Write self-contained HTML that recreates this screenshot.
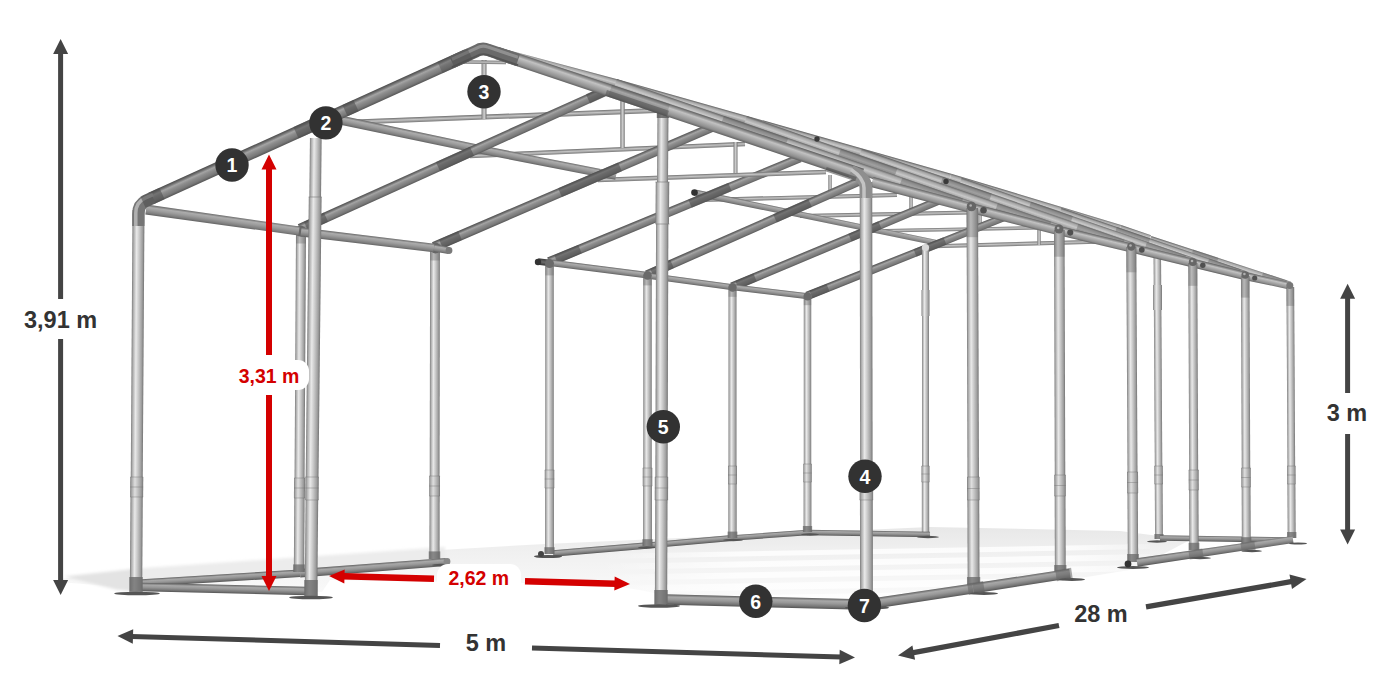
<!DOCTYPE html>
<html lang="pl">
<head>
<meta charset="utf-8">
<title>Wymiary hali namiotowej 5 x 28 m</title>
<style>
html,body{margin:0;padding:0;background:#ffffff;}
body{width:1400px;height:700px;overflow:hidden;}
svg{display:block;}
svg text{font-family:"Liberation Sans",Arial,Helvetica,sans-serif;font-weight:700;}
</style>
</head>
<body>
<svg width="1400" height="700" viewBox="0 0 1400 700">
<defs><linearGradient id="post" x1="0" y1="0" x2="0" y2="1"><stop offset="0" stop-color="#7c7c7c"/><stop offset="0.12" stop-color="#adadad"/><stop offset="0.36" stop-color="#e9e9e9"/><stop offset="0.6" stop-color="#c6c6c6"/><stop offset="0.85" stop-color="#9e9e9e"/><stop offset="1" stop-color="#747474"/></linearGradient><linearGradient id="postH" x1="0" y1="0" x2="1" y2="0"><stop offset="0" stop-color="#7c7c7c"/><stop offset="0.12" stop-color="#adadad"/><stop offset="0.36" stop-color="#e9e9e9"/><stop offset="0.6" stop-color="#c6c6c6"/><stop offset="0.85" stop-color="#9e9e9e"/><stop offset="1" stop-color="#747474"/></linearGradient><linearGradient id="rafter" x1="0" y1="0" x2="0" y2="1"><stop offset="0" stop-color="#4c4c4c"/><stop offset="0.14" stop-color="#6c6c6c"/><stop offset="0.32" stop-color="#a4a4a4"/><stop offset="0.5" stop-color="#8e8e8e"/><stop offset="0.8" stop-color="#787878"/><stop offset="1" stop-color="#565656"/></linearGradient><linearGradient id="rafterL" x1="0" y1="0" x2="0" y2="1"><stop offset="0" stop-color="#5c5c5c"/><stop offset="0.14" stop-color="#8a8a8a"/><stop offset="0.32" stop-color="#c2c2c2"/><stop offset="0.5" stop-color="#aeaeae"/><stop offset="0.8" stop-color="#8e8e8e"/><stop offset="1" stop-color="#5e5e5e"/></linearGradient><linearGradient id="purlin" x1="0" y1="0" x2="0" y2="1"><stop offset="0" stop-color="#666666"/><stop offset="0.25" stop-color="#acacac"/><stop offset="0.5" stop-color="#9c9c9c"/><stop offset="0.8" stop-color="#808080"/><stop offset="1" stop-color="#626262"/></linearGradient><linearGradient id="base" x1="0" y1="0" x2="0" y2="1"><stop offset="0" stop-color="#606060"/><stop offset="0.25" stop-color="#a8a8a8"/><stop offset="0.5" stop-color="#989898"/><stop offset="0.8" stop-color="#767676"/><stop offset="1" stop-color="#545454"/></linearGradient><linearGradient id="thin" x1="0" y1="0" x2="0" y2="1"><stop offset="0" stop-color="#6c6c6c"/><stop offset="0.45" stop-color="#c4c4c4"/><stop offset="1" stop-color="#767676"/></linearGradient><linearGradient id="thinV" x1="0" y1="0" x2="0" y2="1"><stop offset="0" stop-color="#747474"/><stop offset="0.45" stop-color="#d2d2d2"/><stop offset="1" stop-color="#7e7e7e"/></linearGradient><linearGradient id="lightT" x1="0" y1="0" x2="0" y2="1"><stop offset="0" stop-color="#5e5e5e"/><stop offset="0.2" stop-color="#a6a6a6"/><stop offset="0.45" stop-color="#c8c8c8"/><stop offset="0.8" stop-color="#909090"/><stop offset="1" stop-color="#585858"/></linearGradient><linearGradient id="floorG" gradientUnits="userSpaceOnUse" x1="0" y1="528" x2="0" y2="606"><stop offset="0" stop-color="#e8e8e8"/><stop offset="0.3" stop-color="#f0f0f0"/><stop offset="1" stop-color="#fcfcfc"/></linearGradient><linearGradient id="stripeG" gradientUnits="userSpaceOnUse" x1="600" y1="0" x2="1150" y2="0"><stop offset="0" stop-color="#fff" stop-opacity="0"/><stop offset="0.25" stop-color="#fff" stop-opacity="0.8"/><stop offset="0.85" stop-color="#fff" stop-opacity="0.8"/><stop offset="1" stop-color="#fff" stop-opacity="0.2"/></linearGradient><filter id="soft" x="-5%" y="-20%" width="110%" height="140%"><feGaussianBlur stdDeviation="1.6"/></filter><linearGradient id="dark" x1="0" y1="0" x2="0" y2="1"><stop offset="0" stop-color="#3c3c3c"/><stop offset="0.5" stop-color="#6a6a6a"/><stop offset="1" stop-color="#333333"/></linearGradient></defs>
<rect width="1400" height="700" fill="#ffffff"/>
<g id="floor">
<clipPath id="floorClip"><polygon points="58,579 140,571 300,560 440,550 545,544 930,527 1120,531 1190,540 1135,569 1075,579 880,607 690,600 640,590 600,584 330,580 322,592 135,588 58,582"/></clipPath>
<g clip-path="url(#floorClip)">
<rect x="50" y="520" width="1200" height="100" fill="url(#floorG)"/>
<polygon points="600,554 1150,544 1150,549 600,559" fill="url(#stripeG)"/>
<polygon points="600,564 1150,554 1150,560 600,570" fill="url(#stripeG)"/>
<polygon points="600,575 1150,565 1150,571 600,581" fill="url(#stripeG)"/>
<polygon points="600,586 1150,576 1150,583 600,593" fill="url(#stripeG)"/>
<polygon points="600,598 1150,588 1150,595 600,605" fill="url(#stripeG)"/>
</g>
<g filter="url(#soft)"><polygon points="64,576.5 137,568.5 137,592 116,589.5" fill="#e3e3e3"/><polygon points="137,568.5 445,547 445,561 137,582" fill="#ececec"/></g>
</g>
<g id="back">
<rect x="0" y="-3.75" width="209.00" height="7.50" fill="url(#post)" transform="translate(1158.56 466.00) rotate(-90.345)" />
<rect x="0" y="-3.92" width="55.00" height="7.85" fill="url(#post)" transform="translate(1159.00 539.00) rotate(-90.345)" />
<rect x="0" y="-4.25" width="18.00" height="8.50" fill="url(#post)" transform="translate(1158.67 484.00) rotate(-90.345)" />
<rect x="1154.36" y="466.00" width="8.50" height="18.00" fill="#909090" opacity="0.12"/>
<rect x="1154.36" y="465.50" width="8.50" height="1" fill="#707070" opacity="0.4"/>
<rect x="1154.36" y="474.50" width="8.50" height="1" fill="#707070" opacity="0.4"/>
<rect x="1154.36" y="483.50" width="8.50" height="1" fill="#707070" opacity="0.4"/>
<rect x="1154.38" y="534.00" width="9.25" height="5.00" fill="#686868" opacity="0.75"/>
<rect x="1153" y="285" width="9" height="25" fill="url(#postH)"/>
<rect x="0" y="-2.75" width="130.02" height="5.50" fill="url(#base)" transform="translate(1160.00 538.00) rotate(0.881)" />
<ellipse cx="1157" cy="541.5" rx="10" ry="1.2" fill="#555"/>
<rect x="0" y="-3.50" width="219.00" height="7.00" fill="url(#post)" transform="translate(925.50 466.00) rotate(-90.000)" />
<rect x="0" y="-3.67" width="53.00" height="7.35" fill="url(#post)" transform="translate(925.50 535.00) rotate(-90.000)" />
<rect x="0" y="-4.00" width="16.00" height="8.00" fill="url(#post)" transform="translate(925.50 482.00) rotate(-90.000)" />
<rect x="921.50" y="466.00" width="8.00" height="16.00" fill="#909090" opacity="0.12"/>
<rect x="921.50" y="465.50" width="8.00" height="1" fill="#707070" opacity="0.4"/>
<rect x="921.50" y="473.50" width="8.00" height="1" fill="#707070" opacity="0.4"/>
<rect x="921.50" y="481.50" width="8.00" height="1" fill="#707070" opacity="0.4"/>
<rect x="921.5" y="290" width="8" height="26" fill="url(#postH)"/>
<rect x="0" y="-2.75" width="122.52" height="5.50" fill="url(#base)" transform="translate(807.50 532.50) rotate(0.935)" />
<ellipse cx="928" cy="537" rx="11" ry="1.2" fill="#555"/>
<rect x="0" y="-2.00" width="197.06" height="4.00" fill="url(#thin)" transform="translate(700.00 200.00) rotate(-1.454)" />
<rect x="0" y="-1.75" width="19.00" height="3.50" fill="url(#thinV)" transform="translate(830.00 175.00) rotate(90.000)" />
<rect x="0" y="-2.00" width="170.04" height="4.00" fill="url(#thin)" transform="translate(800.00 216.00) rotate(-1.179)" />
<rect x="0" y="-1.75" width="18.00" height="3.50" fill="url(#thinV)" transform="translate(911.00 196.00) rotate(90.000)" />
<rect x="0" y="-1.75" width="178.03" height="3.50" fill="url(#thin)" transform="translate(872.00 231.00) rotate(-1.126)" />
<rect x="0" y="-1.75" width="15.00" height="3.50" fill="url(#thinV)" transform="translate(980.00 215.00) rotate(90.000)" />
<rect x="0" y="-2.00" width="181.07" height="4.00" fill="url(#thin)" transform="translate(925.00 246.50) rotate(-1.582)" />
<rect x="0" y="-1.75" width="15.00" height="3.50" fill="url(#thinV)" transform="translate(1039.00 230.00) rotate(90.000)" />
</g>
<g id="seg2">
<rect x="0" y="-3.25" width="94.34" height="6.50" fill="url(#base)" transform="translate(553.00 553.50) rotate(-4.865)" />
<rect x="0" y="-3.00" width="85.33" height="6.00" fill="url(#base)" transform="translate(647.00 545.50) rotate(-5.042)" />
<rect x="0" y="-2.75" width="76.20" height="5.50" fill="url(#base)" transform="translate(732.00 538.00) rotate(-4.139)" />
<rect x="0" y="-4.25" width="204.00" height="8.50" fill="url(#post)" transform="translate(549.50 470.00) rotate(-90.000)" />
<rect x="0" y="-4.42" width="66.00" height="8.85" fill="url(#post)" transform="translate(549.50 554.00) rotate(-90.000)" />
<rect x="0" y="-4.75" width="18.00" height="9.50" fill="url(#post)" transform="translate(549.50 488.00) rotate(-90.000)" />
<rect x="544.75" y="470.00" width="9.50" height="18.00" fill="#909090" opacity="0.12"/>
<rect x="544.75" y="469.50" width="9.50" height="1" fill="#707070" opacity="0.4"/>
<rect x="544.75" y="478.50" width="9.50" height="1" fill="#707070" opacity="0.4"/>
<rect x="544.75" y="487.50" width="9.50" height="1" fill="#707070" opacity="0.4"/>
<rect x="544.38" y="547.20" width="10.25" height="6.80" fill="#686868" opacity="0.75"/>
<rect x="545.25" y="266.00" width="8.50" height="9.40" fill="#6a6a6a" opacity="0.38"/>
<rect x="0" y="-4.25" width="192.00" height="8.50" fill="url(#post)" transform="translate(647.50 468.00) rotate(-90.000)" />
<rect x="0" y="-4.42" width="60.00" height="8.85" fill="url(#post)" transform="translate(647.50 546.00) rotate(-90.000)" />
<rect x="0" y="-4.75" width="18.00" height="9.50" fill="url(#post)" transform="translate(647.50 486.00) rotate(-90.000)" />
<rect x="642.75" y="468.00" width="9.50" height="18.00" fill="#909090" opacity="0.12"/>
<rect x="642.75" y="467.50" width="9.50" height="1" fill="#707070" opacity="0.4"/>
<rect x="642.75" y="476.50" width="9.50" height="1" fill="#707070" opacity="0.4"/>
<rect x="642.75" y="485.50" width="9.50" height="1" fill="#707070" opacity="0.4"/>
<rect x="642.38" y="539.20" width="10.25" height="6.80" fill="#686868" opacity="0.75"/>
<rect x="643.25" y="276.00" width="8.50" height="9.40" fill="#6a6a6a" opacity="0.38"/>
<rect x="0" y="-4.00" width="178.00" height="8.00" fill="url(#post)" transform="translate(732.50 466.00) rotate(-90.000)" />
<rect x="0" y="-4.17" width="54.00" height="8.35" fill="url(#post)" transform="translate(732.50 538.00) rotate(-90.000)" />
<rect x="0" y="-4.50" width="18.00" height="9.00" fill="url(#post)" transform="translate(732.50 484.00) rotate(-90.000)" />
<rect x="728.00" y="466.00" width="9.00" height="18.00" fill="#909090" opacity="0.12"/>
<rect x="728.00" y="465.50" width="9.00" height="1" fill="#707070" opacity="0.4"/>
<rect x="728.00" y="474.50" width="9.00" height="1" fill="#707070" opacity="0.4"/>
<rect x="728.00" y="483.50" width="9.00" height="1" fill="#707070" opacity="0.4"/>
<rect x="727.62" y="531.60" width="9.75" height="6.40" fill="#686868" opacity="0.75"/>
<rect x="728.50" y="288.00" width="8.00" height="8.80" fill="#6a6a6a" opacity="0.38"/>
<rect x="0" y="-3.75" width="167.00" height="7.50" fill="url(#post)" transform="translate(807.50 464.00) rotate(-90.000)" />
<rect x="0" y="-3.92" width="50.00" height="7.85" fill="url(#post)" transform="translate(807.50 532.00) rotate(-90.000)" />
<rect x="0" y="-4.25" width="18.00" height="8.50" fill="url(#post)" transform="translate(807.50 482.00) rotate(-90.000)" />
<rect x="803.25" y="464.00" width="8.50" height="18.00" fill="#909090" opacity="0.12"/>
<rect x="803.25" y="463.50" width="8.50" height="1" fill="#707070" opacity="0.4"/>
<rect x="803.25" y="472.50" width="8.50" height="1" fill="#707070" opacity="0.4"/>
<rect x="803.25" y="481.50" width="8.50" height="1" fill="#707070" opacity="0.4"/>
<rect x="802.88" y="526.00" width="9.25" height="6.00" fill="#686868" opacity="0.75"/>
<rect x="803.75" y="297.00" width="7.50" height="8.20" fill="#6a6a6a" opacity="0.38"/>
<ellipse cx="548" cy="556.5" rx="14" ry="1.6" fill="#555"/>
<circle cx="541" cy="554" r="3" fill="#444"/>
<ellipse cx="647" cy="547.5" rx="9" ry="1.2" fill="#555"/>
<ellipse cx="733" cy="540" rx="10" ry="1.2" fill="#555"/>
<ellipse cx="810" cy="534.5" rx="9" ry="1.2" fill="#555"/>
<polygon points="0,-3.25 249.17,-2.75 249.17,2.75 0,3.25" fill="url(#purlin)" transform="translate(696.00 193.00) rotate(11.693)" />
<circle cx="694.5" cy="192.6" r="3.3" fill="#333"/>
<polygon points="0,-4.75 271.69,-4.25 271.69,4.25 0,4.75" fill="url(#rafter)" transform="translate(549.00 262.00) rotate(-22.506)" />
<polygon points="0,-4.75 235.05,-4.25 235.05,4.25 0,4.75" fill="url(#rafter)" transform="translate(647.00 275.00) rotate(-23.839)" />
<polygon points="0,-4.50 230.85,-4.00 230.85,4.00 0,4.50" fill="url(#rafter)" transform="translate(732.00 287.00) rotate(-22.677)" />
<polygon points="0,-4.25 218.56,-3.75 218.56,3.75 0,4.25" fill="url(#rafter)" transform="translate(807.00 296.00) rotate(-21.753)" />
<line x1="556.00" y1="259.10" x2="580.00" y2="249.16" stroke="#4a4a4a" stroke-opacity="0.55" stroke-width="9.00"/>
<line x1="652.00" y1="272.79" x2="672.00" y2="263.95" stroke="#4a4a4a" stroke-opacity="0.55" stroke-width="9.00"/>
<line x1="737.00" y1="284.91" x2="755.00" y2="277.39" stroke="#4a4a4a" stroke-opacity="0.55" stroke-width="8.50"/>
<line x1="811.00" y1="294.40" x2="828.00" y2="287.62" stroke="#4a4a4a" stroke-opacity="0.55" stroke-width="8.00"/>
<line x1="690.00" y1="203.58" x2="730.00" y2="187.00" stroke="#4a4a4a" stroke-opacity="0.55" stroke-width="9.00"/>
<line x1="775.00" y1="218.44" x2="810.00" y2="202.98" stroke="#4a4a4a" stroke-opacity="0.55" stroke-width="9.00"/>
<line x1="850.00" y1="237.69" x2="880.00" y2="225.16" stroke="#4a4a4a" stroke-opacity="0.55" stroke-width="8.50"/>
<line x1="915.00" y1="252.91" x2="945.00" y2="240.94" stroke="#4a4a4a" stroke-opacity="0.55" stroke-width="8.00"/>
<rect x="0" y="-3.25" width="12.09" height="6.50" fill="url(#dark)" transform="translate(538.00 261.50) rotate(7.125)" />
<rect x="0" y="-3.25" width="94.76" height="6.50" fill="url(#purlin)" transform="translate(552.00 263.00) rotate(7.275)" />
<rect x="0" y="-3.00" width="81.74" height="6.00" fill="url(#purlin)" transform="translate(650.00 276.00) rotate(7.734)" />
<rect x="0" y="-3.00" width="71.51" height="6.00" fill="url(#purlin)" transform="translate(735.00 287.50) rotate(6.827)" />
<rect x="0" y="-3.50" width="21.00" height="7.00" fill="url(#post)" transform="translate(925.50 268.00) rotate(-90.000)" />
<circle cx="925.5" cy="247.5" r="3.6" fill="#d8d8d8"/>
<circle cx="538" cy="262" r="3.2" fill="#333"/>
<circle cx="549.5" cy="263.5" r="4.5" fill="#6a6a6a"/>
<circle cx="647.5" cy="275.5" r="4.3" fill="#6a6a6a"/>
<circle cx="732.5" cy="287.5" r="4.2" fill="#6a6a6a"/>
<circle cx="807.5" cy="296.5" r="4" fill="#6a6a6a"/>
</g>
<g id="seg1roof">
<rect x="0" y="-2.50" width="314.23" height="5.00" fill="url(#thin)" transform="translate(342.00 122.50) rotate(-2.189)" />
<rect x="0" y="-2.50" width="59.00" height="5.00" fill="url(#thinV)" transform="translate(484.00 60.00) rotate(90.000)" />
<rect x="0" y="-1.75" width="43.00" height="3.50" fill="url(#thin)" transform="translate(463.00 62.00) rotate(0.666)" />
<rect x="0" y="-2.25" width="275.26" height="4.50" fill="url(#thin)" transform="translate(470.00 156.00) rotate(-2.499)" />
<rect x="0" y="-2.25" width="48.00" height="4.50" fill="url(#thinV)" transform="translate(622.50 100.00) rotate(90.000)" />
<rect x="0" y="-2.25" width="228.14" height="4.50" fill="url(#thin)" transform="translate(598.00 180.00) rotate(-2.010)" />
<rect x="0" y="-2.00" width="31.00" height="4.00" fill="url(#thinV)" transform="translate(735.50 142.00) rotate(90.000)" />
<polygon points="0,-4.50 141.01,-4.25 141.01,4.25 0,4.50" fill="url(#purlin)" transform="translate(340.00 120.00) rotate(11.868)" />
<polygon points="0,-4.25 124.34,-4.00 124.34,4.00 0,4.25" fill="url(#purlin)" transform="translate(478.00 149.00) rotate(11.129)" />
<rect x="0" y="-3.75" width="16.28" height="7.50" fill="url(#purlin)" transform="translate(600.00 173.00) rotate(10.620)" />
<polygon points="0,-5.25 342.38,-4.75 342.38,4.75 0,5.25" fill="url(#rafter)" transform="translate(300.00 229.00) rotate(-24.319)" />
<polygon points="0,-5.00 328.71,-4.50 328.71,4.50 0,5.00" fill="url(#rafter)" transform="translate(434.00 246.80) rotate(-23.258)" />
<line x1="306.00" y1="226.19" x2="326.00" y2="217.16" stroke="#4a4a4a" stroke-opacity="0.55" stroke-width="10.00"/>
<line x1="438.00" y1="166.58" x2="472.00" y2="151.23" stroke="#4a4a4a" stroke-opacity="0.55" stroke-width="10.00"/>
<line x1="441.00" y1="243.85" x2="460.00" y2="235.68" stroke="#4a4a4a" stroke-opacity="0.55" stroke-width="9.50"/>
<line x1="560.00" y1="192.68" x2="620.00" y2="166.88" stroke="#4a4a4a" stroke-opacity="0.55" stroke-width="9.50"/>
<line x1="588.00" y1="98.84" x2="612.00" y2="88.00" stroke="#4a4a4a" stroke-opacity="0.55" stroke-width="10.00"/>
<line x1="712.00" y1="127.32" x2="736.00" y2="117.00" stroke="#4a4a4a" stroke-opacity="0.55" stroke-width="9.50"/>
</g>
<g id="band">
<polygon points="0,-3.00 122.53,-4.50 122.53,4.50 0,3.00" fill="url(#lightT)" transform="translate(500.00 51.00) rotate(15.624)" />
<rect x="0" y="-4.50" width="345.05" height="9.00" fill="url(#lightT)" transform="translate(618.00 84.00) rotate(15.809)" />
<polygon points="0,-4.50 177.43,-4.00 177.43,4.00 0,4.50" fill="url(#lightT)" transform="translate(950.00 178.00) rotate(16.637)" />
<polygon points="0,-4.00 31.53,-3.50 31.53,3.50 0,4.00" fill="url(#lightT)" transform="translate(1120.00 228.80) rotate(17.918)" />
<polygon points="0,-4.25 147.05,-3.50 147.05,3.50 0,4.25" fill="url(#lightT)" transform="translate(1150.00 240.00) rotate(17.819)" />
<line x1="1192.00" y1="253.15" x2="1217.20" y2="261.34" stroke="#555" stroke-opacity="0.35" stroke-width="7.75"/>
<line x1="1262.00" y1="275.90" x2="1285.80" y2="283.63" stroke="#555" stroke-opacity="0.35" stroke-width="7.00"/>
<polygon points="0,-4.50 195.31,-4.00 195.31,4.00 0,4.50" fill="url(#lightT)" transform="translate(1060.00 212.37) rotate(18.703)" />
<line x1="1115.50" y1="230.81" x2="1148.80" y2="242.17" stroke="#555" stroke-opacity="0.35" stroke-width="8.50"/>
<line x1="1208.00" y1="262.37" x2="1239.45" y2="273.11" stroke="#555" stroke-opacity="0.35" stroke-width="8.00"/>
<polygon points="0,-5.00 245.21,-4.25 245.21,4.25 0,5.00" fill="url(#lightT)" transform="translate(960.00 182.49) rotate(18.891)" />
<line x1="1029.60" y1="205.96" x2="1071.36" y2="220.34" stroke="#555" stroke-opacity="0.35" stroke-width="9.25"/>
<line x1="1145.60" y1="245.90" x2="1185.04" y2="259.48" stroke="#555" stroke-opacity="0.35" stroke-width="8.50"/>
<polygon points="0,-5.50 286.51,-4.75 286.51,4.75 0,5.50" fill="url(#lightT)" transform="translate(860.00 154.02) rotate(18.937)" />
<line x1="941.30" y1="181.56" x2="990.08" y2="198.39" stroke="#555" stroke-opacity="0.35" stroke-width="10.25"/>
<line x1="1076.80" y1="228.30" x2="1122.87" y2="244.20" stroke="#555" stroke-opacity="0.35" stroke-width="9.50"/>
<polygon points="0,-5.75 332.11,-5.00 332.11,5.00 0,5.75" fill="url(#lightT)" transform="translate(745.00 121.46) rotate(19.007)" />
<line x1="839.20" y1="153.56" x2="895.72" y2="173.12" stroke="#555" stroke-opacity="0.35" stroke-width="10.75"/>
<line x1="996.20" y1="207.89" x2="1049.58" y2="226.36" stroke="#555" stroke-opacity="0.35" stroke-width="10.00"/>
<polygon points="0,-6.00 377.46,-5.25 377.46,5.25 0,6.00" fill="url(#lightT)" transform="translate(615.00 84.66) rotate(18.953)" />
<line x1="722.10" y1="121.09" x2="786.36" y2="143.25" stroke="#555" stroke-opacity="0.35" stroke-width="11.25"/>
<line x1="900.60" y1="182.64" x2="961.29" y2="203.56" stroke="#555" stroke-opacity="0.35" stroke-width="10.50"/>
<circle cx="817" cy="139" r="2.7" fill="#3a3a3a"/>
<circle cx="946" cy="181.5" r="2.7" fill="#3a3a3a"/>
<circle cx="1124" cy="245" r="2.7" fill="#3a3a3a"/>
</g>
<g id="right">
<polygon points="0,-5.25 102.36,-5.00 102.36,5.00 0,5.25" fill="url(#rafterL)" transform="translate(872.00 182.00) rotate(14.715)" />
<polygon points="0,-5.00 90.35,-4.75 90.35,4.75 0,5.00" fill="url(#rafterL)" transform="translate(971.00 208.00) rotate(14.421)" />
<polygon points="0,-4.75 74.58,-4.50 74.58,4.50 0,4.75" fill="url(#rafterL)" transform="translate(1058.50 230.50) rotate(13.570)" />
<polygon points="0,-4.50 63.30,-4.25 63.30,4.25 0,4.50" fill="url(#rafterL)" transform="translate(1131.00 248.00) rotate(13.707)" />
<polygon points="0,-4.25 54.09,-4.00 54.09,4.00 0,4.25" fill="url(#rafterL)" transform="translate(1192.50 263.00) rotate(13.908)" />
<polygon points="0,-4.00 46.10,-3.50 46.10,3.50 0,4.00" fill="url(#rafterL)" transform="translate(1245.00 276.00) rotate(12.529)" />
<rect x="0" y="-3.85" width="179.00" height="7.70" fill="url(#post)" transform="translate(1291.30 466.00) rotate(-90.320)" />
<rect x="0" y="-3.99" width="54.00" height="7.98" fill="url(#post)" transform="translate(1291.70 538.00) rotate(-90.320)" />
<rect x="0" y="-4.25" width="18.00" height="8.50" fill="url(#post)" transform="translate(1291.40 484.00) rotate(-90.320)" />
<rect x="1287.10" y="466.00" width="8.50" height="18.00" fill="#909090" opacity="0.12"/>
<rect x="1287.10" y="465.50" width="8.50" height="1" fill="#707070" opacity="0.4"/>
<rect x="1287.10" y="474.50" width="8.50" height="1" fill="#707070" opacity="0.4"/>
<rect x="1287.10" y="483.50" width="8.50" height="1" fill="#707070" opacity="0.4"/>
<rect x="1287.01" y="532.00" width="9.38" height="6.00" fill="#686868" opacity="0.75"/>
<rect x="1286.45" y="287.00" width="7.70" height="18.90" fill="#6a6a6a" opacity="0.38"/>
<rect x="0" y="-4.25" width="192.00" height="8.50" fill="url(#post)" transform="translate(1245.99 468.00) rotate(-90.235)" />
<rect x="0" y="-4.42" width="57.00" height="8.85" fill="url(#post)" transform="translate(1246.30 544.00) rotate(-90.235)" />
<rect x="0" y="-4.75" width="19.00" height="9.50" fill="url(#post)" transform="translate(1246.07 487.00) rotate(-90.235)" />
<rect x="1241.28" y="468.00" width="9.50" height="19.00" fill="#909090" opacity="0.12"/>
<rect x="1241.28" y="467.50" width="9.50" height="1" fill="#707070" opacity="0.4"/>
<rect x="1241.28" y="477.00" width="9.50" height="1" fill="#707070" opacity="0.4"/>
<rect x="1241.28" y="486.50" width="9.50" height="1" fill="#707070" opacity="0.4"/>
<rect x="1241.17" y="537.20" width="10.25" height="6.80" fill="#686868" opacity="0.75"/>
<rect x="1240.95" y="276.00" width="8.50" height="21.60" fill="#6a6a6a" opacity="0.38"/>
<rect x="0" y="-4.50" width="207.00" height="9.00" fill="url(#post)" transform="translate(1193.67 470.00) rotate(-90.240)" />
<rect x="0" y="-4.67" width="60.00" height="9.35" fill="url(#post)" transform="translate(1194.00 550.00) rotate(-90.240)" />
<rect x="0" y="-5.00" width="20.00" height="10.00" fill="url(#post)" transform="translate(1193.75 490.00) rotate(-90.240)" />
<rect x="1188.71" y="470.00" width="10.00" height="20.00" fill="#909090" opacity="0.12"/>
<rect x="1188.71" y="469.50" width="10.00" height="1" fill="#707070" opacity="0.4"/>
<rect x="1188.71" y="479.50" width="10.00" height="1" fill="#707070" opacity="0.4"/>
<rect x="1188.71" y="489.50" width="10.00" height="1" fill="#707070" opacity="0.4"/>
<rect x="1188.62" y="542.80" width="10.75" height="7.20" fill="#686868" opacity="0.75"/>
<rect x="1188.30" y="263.00" width="9.00" height="22.80" fill="#6a6a6a" opacity="0.38"/>
<rect x="0" y="-5.00" width="225.00" height="10.00" fill="url(#post)" transform="translate(1132.51 472.00) rotate(-90.309)" />
<rect x="0" y="-5.17" width="69.00" height="10.35" fill="url(#post)" transform="translate(1133.00 562.00) rotate(-90.309)" />
<rect x="0" y="-5.50" width="21.00" height="11.00" fill="url(#post)" transform="translate(1132.63 493.00) rotate(-90.309)" />
<rect x="1127.07" y="472.00" width="11.00" height="21.00" fill="#909090" opacity="0.12"/>
<rect x="1127.07" y="471.50" width="11.00" height="1" fill="#707070" opacity="0.4"/>
<rect x="1127.07" y="482.00" width="11.00" height="1" fill="#707070" opacity="0.4"/>
<rect x="1127.07" y="492.50" width="11.00" height="1" fill="#707070" opacity="0.4"/>
<rect x="1127.12" y="554.00" width="11.75" height="8.00" fill="#686868" opacity="0.75"/>
<rect x="1126.30" y="247.00" width="10.00" height="25.30" fill="#6a6a6a" opacity="0.38"/>
<rect x="0" y="-5.25" width="245.00" height="10.50" fill="url(#post)" transform="translate(1060.02 475.00) rotate(-90.168)" />
<rect x="0" y="-5.42" width="76.00" height="10.85" fill="url(#post)" transform="translate(1060.30 572.00) rotate(-90.168)" />
<rect x="0" y="-5.75" width="21.00" height="11.50" fill="url(#post)" transform="translate(1060.08 496.00) rotate(-90.168)" />
<rect x="1054.30" y="475.00" width="11.50" height="21.00" fill="#909090" opacity="0.12"/>
<rect x="1054.30" y="474.50" width="11.50" height="1" fill="#707070" opacity="0.4"/>
<rect x="1054.30" y="485.00" width="11.50" height="1" fill="#707070" opacity="0.4"/>
<rect x="1054.30" y="495.50" width="11.50" height="1" fill="#707070" opacity="0.4"/>
<rect x="1054.17" y="565.00" width="12.25" height="7.00" fill="#686868" opacity="0.75"/>
<rect x="1054.05" y="230.00" width="10.50" height="26.70" fill="#6a6a6a" opacity="0.38"/>
<rect x="0" y="-5.75" width="269.00" height="11.50" fill="url(#post)" transform="translate(973.23 477.00) rotate(-90.198)" />
<rect x="0" y="-5.92" width="85.00" height="11.85" fill="url(#post)" transform="translate(973.60 585.00) rotate(-90.198)" />
<rect x="0" y="-6.25" width="23.00" height="12.50" fill="url(#post)" transform="translate(973.31 500.00) rotate(-90.198)" />
<rect x="967.02" y="477.00" width="12.50" height="23.00" fill="#909090" opacity="0.12"/>
<rect x="967.02" y="476.50" width="12.50" height="1" fill="#707070" opacity="0.4"/>
<rect x="967.02" y="488.00" width="12.50" height="1" fill="#707070" opacity="0.4"/>
<rect x="967.02" y="499.50" width="12.50" height="1" fill="#707070" opacity="0.4"/>
<rect x="966.98" y="577.00" width="13.25" height="8.00" fill="#686868" opacity="0.75"/>
<rect x="966.55" y="208.00" width="11.50" height="29.20" fill="#6a6a6a" opacity="0.38"/>
<polygon points="0,-4.25 157.69,-3.50 157.69,3.50 0,4.25" fill="url(#base)" transform="translate(1137.00 562.50) rotate(-8.387)" />
<polygon points="0,-5.25 104.16,-5.00 104.16,5.00 0,5.25" fill="url(#base)" transform="translate(870.00 604.00) rotate(-8.558)" />
<polygon points="0,-5.00 98.15,-4.75 98.15,4.75 0,5.00" fill="url(#base)" transform="translate(973.00 588.50) rotate(-8.791)" />
<rect x="968" y="582.25" width="16" height="11.5" fill="#666" opacity="0.55" transform="rotate(-8.7 976 588)"/>
<rect x="1056" y="569.0" width="16" height="11" fill="#666" opacity="0.55" transform="rotate(-8.7 1064 574.5)"/>
<rect x="1189" y="549.5" width="14" height="9" fill="#6a6a6a" opacity="0.55" transform="rotate(-8.4 1196 554)"/>
<rect x="1241" y="542.0" width="14" height="9" fill="#6a6a6a" opacity="0.55" transform="rotate(-8.4 1248 546.5)"/>
<ellipse cx="1298" cy="543.5" rx="9" ry="1.1" fill="#555"/>
<ellipse cx="1252" cy="551" rx="10" ry="1.2" fill="#555"/>
<ellipse cx="1200" cy="558" rx="11" ry="1.2" fill="#555"/>
<ellipse cx="1133" cy="567.5" rx="16" ry="1.5" fill="#555"/>
<ellipse cx="1072" cy="579.5" rx="13" ry="1.4" fill="#555"/>
<ellipse cx="984" cy="593.5" rx="14" ry="1.5" fill="#555"/>
<circle cx="1128" cy="564" r="3.4" fill="#333"/>
<circle cx="971.5" cy="206.5" r="4.8" fill="#666"/>
<circle cx="983.5" cy="210.34" r="3.2640000000000002" fill="#505050"/>
<circle cx="970.7" cy="205.5" r="1.3" fill="#b0b0b0"/>
<circle cx="1059" cy="229" r="4.5" fill="#666"/>
<circle cx="1070.25" cy="232.6" r="3.06" fill="#505050"/>
<circle cx="1058.2" cy="228" r="1.3" fill="#b0b0b0"/>
<circle cx="1131.3" cy="246.5" r="4.2" fill="#666"/>
<circle cx="1141.8" cy="249.86" r="2.8560000000000003" fill="#505050"/>
<circle cx="1130.5" cy="245.5" r="1.3" fill="#b0b0b0"/>
<circle cx="1192.8" cy="262" r="4" fill="#666"/>
<circle cx="1202.8" cy="265.2" r="2.72" fill="#505050"/>
<circle cx="1192.0" cy="261" r="1.3" fill="#b0b0b0"/>
<circle cx="1245.2" cy="275" r="3.8" fill="#666"/>
<circle cx="1254.7" cy="278.04" r="2.584" fill="#505050"/>
<circle cx="1244.4" cy="274" r="1.3" fill="#b0b0b0"/>
<circle cx="1289.8" cy="285.5" r="3.5" fill="#777"/>
</g>
<g id="left">
<rect x="0" y="-3.75" width="158.30" height="7.50" fill="url(#base)" transform="translate(142.00 583.00) rotate(-3.513)" />
<polygon points="0,-4.25 146.44,-4.00 146.44,4.00 0,4.25" fill="url(#base)" transform="translate(300.00 573.30) rotate(-4.426)" />
<rect x="0" y="-5.00" width="245.00" height="10.00" fill="url(#post)" transform="translate(299.55 478.00) rotate(-89.662)" />
<rect x="0" y="-5.17" width="74.00" height="10.35" fill="url(#post)" transform="translate(299.00 572.00) rotate(-89.662)" />
<rect x="0" y="-5.50" width="20.00" height="11.00" fill="url(#post)" transform="translate(299.44 498.00) rotate(-89.662)" />
<rect x="294.00" y="478.00" width="11.00" height="20.00" fill="#909090" opacity="0.12"/>
<rect x="294.00" y="477.50" width="11.00" height="1" fill="#707070" opacity="0.4"/>
<rect x="294.00" y="487.50" width="11.00" height="1" fill="#707070" opacity="0.4"/>
<rect x="294.00" y="497.50" width="11.00" height="1" fill="#707070" opacity="0.4"/>
<rect x="293.12" y="564.40" width="11.75" height="7.60" fill="#686868" opacity="0.75"/>
<rect x="296.00" y="233.00" width="10.00" height="10.50" fill="#6a6a6a" opacity="0.38"/>
<rect x="0" y="-4.90" width="226.00" height="9.80" fill="url(#post)" transform="translate(434.63 476.00) rotate(-89.907)" />
<rect x="0" y="-5.08" width="63.00" height="10.15" fill="url(#post)" transform="translate(434.50 559.00) rotate(-89.907)" />
<rect x="0" y="-5.40" width="20.00" height="10.80" fill="url(#post)" transform="translate(434.60 496.00) rotate(-89.907)" />
<rect x="429.22" y="476.00" width="10.80" height="20.00" fill="#909090" opacity="0.12"/>
<rect x="429.22" y="475.50" width="10.80" height="1" fill="#707070" opacity="0.4"/>
<rect x="429.22" y="485.50" width="10.80" height="1" fill="#707070" opacity="0.4"/>
<rect x="429.22" y="495.50" width="10.80" height="1" fill="#707070" opacity="0.4"/>
<rect x="428.73" y="551.40" width="11.55" height="7.60" fill="#686868" opacity="0.75"/>
<rect x="430.10" y="250.00" width="9.80" height="10.50" fill="#6a6a6a" opacity="0.38"/>
<ellipse cx="441" cy="565" rx="9" ry="1.2" fill="#555"/>
<circle cx="447" cy="561.5" r="3.4" fill="#888"/>
<circle cx="300.5" cy="231" r="5.6" fill="#666"/>
<circle cx="435.5" cy="248" r="5.4" fill="#666"/>
<polygon points="0,-5.00 154.50,-4.50 154.50,4.50 0,5.00" fill="url(#purlin)" transform="translate(146.00 209.50) rotate(7.999)" />
<polygon points="0,-4.50 133.96,-4.25 133.96,4.25 0,4.50" fill="url(#purlin)" transform="translate(301.00 232.00) rotate(6.860)" />
<rect x="0" y="-3.50" width="15.21" height="7.00" fill="url(#purlin)" transform="translate(434.00 248.00) rotate(9.462)" />
<circle cx="449" cy="250.5" r="3.4" fill="#7a7a7a"/>
</g>
<g id="front">
<rect x="0" y="-4.25" width="166.05" height="8.50" fill="url(#base)" transform="translate(140.00 587.00) rotate(1.380)" />
<rect x="0" y="-5.25" width="196.06" height="10.50" fill="url(#base)" transform="translate(666.00 599.50) rotate(1.461)" />
<rect x="0" y="-6.00" width="267.01" height="12.00" fill="url(#post)" transform="translate(136.75 477.00) rotate(-89.624)" />
<rect x="0" y="-6.17" width="94.00" height="12.35" fill="url(#post)" transform="translate(136.00 591.00) rotate(-89.624)" />
<rect x="0" y="-6.50" width="20.00" height="13.00" fill="url(#post)" transform="translate(136.62 497.00) rotate(-89.624)" />
<rect x="130.18" y="477.00" width="13.00" height="20.00" fill="#909090" opacity="0.12"/>
<rect x="130.18" y="476.50" width="13.00" height="1" fill="#707070" opacity="0.4"/>
<rect x="130.18" y="486.50" width="13.00" height="1" fill="#707070" opacity="0.4"/>
<rect x="130.18" y="496.50" width="13.00" height="1" fill="#707070" opacity="0.4"/>
<rect x="0" y="-6.30" width="96.00" height="12.60" fill="url(#post)" transform="translate(311.00 596.00) rotate(-89.463)" />
<rect x="0" y="-6.70" width="23.00" height="13.40" fill="url(#post)" transform="translate(311.90 500.00) rotate(-89.502)" />
<rect x="0" y="-6.40" width="280.02" height="12.80" fill="url(#post)" transform="translate(312.10 477.00) rotate(-89.366)" />
<rect x="0" y="-5.85" width="59.00" height="11.70" fill="url(#post)" transform="translate(315.20 197.00) rotate(-89.417)" />
<rect x="308.6" y="196.4" width="13.2" height="1.2" fill="#777" opacity="0.5"/>
<rect x="305.3" y="476.5" width="13.4" height="1" fill="#707070" opacity="0.4"/>
<rect x="305.3" y="487.5" width="13.4" height="1" fill="#707070" opacity="0.4"/>
<rect x="305.3" y="499.5" width="13.4" height="1" fill="#707070" opacity="0.4"/>
<rect x="0" y="-6.15" width="104.00" height="12.30" fill="url(#post)" transform="translate(661.00 604.00) rotate(-89.780)" />
<rect x="0" y="-6.65" width="23.00" height="13.30" fill="url(#post)" transform="translate(661.40 500.00) rotate(-89.751)" />
<rect x="0" y="-6.15" width="253.00" height="12.30" fill="url(#post)" transform="translate(661.50 477.00) rotate(-89.841)" />
<rect x="654.8" y="476.5" width="13.3" height="1" fill="#707070" opacity="0.4"/>
<rect x="654.8" y="487.5" width="13.3" height="1" fill="#707070" opacity="0.4"/>
<rect x="654.8" y="499.5" width="13.3" height="1" fill="#707070" opacity="0.4"/>
<rect x="0" y="-6.75" width="42.00" height="13.50" fill="url(#post)" transform="translate(662.20 224.00) rotate(-89.591)" />
<rect x="0" y="-5.50" width="71.00" height="11.00" fill="url(#post)" transform="translate(662.50 182.00) rotate(-89.597)" />
<rect x="656.8" y="111" width="12.4" height="7" fill="#5a5a5a" opacity="0.8"/>
<rect x="655.4" y="181.4" width="14" height="1.2" fill="#777" opacity="0.5"/>
<rect x="655.4" y="223.4" width="14" height="1.2" fill="#777" opacity="0.5"/>
<rect x="0" y="-6.25" width="295.00" height="12.50" fill="url(#post)" transform="translate(866.35 477.00) rotate(-90.068)" />
<rect x="0" y="-6.42" width="106.00" height="12.85" fill="url(#post)" transform="translate(866.50 606.00) rotate(-90.068)" />
<rect x="0" y="-6.75" width="23.00" height="13.50" fill="url(#post)" transform="translate(866.38 500.00) rotate(-90.068)" />
<rect x="859.61" y="477.00" width="13.50" height="23.00" fill="#909090" opacity="0.12"/>
<rect x="859.61" y="476.50" width="13.50" height="1" fill="#707070" opacity="0.4"/>
<rect x="859.61" y="488.00" width="13.50" height="1" fill="#707070" opacity="0.4"/>
<rect x="859.61" y="499.50" width="13.50" height="1" fill="#707070" opacity="0.4"/>
<rect x="129.25" y="577" width="13.5" height="15" fill="#6a6a6a" opacity="0.8"/>
<rect x="304.25" y="580" width="13.5" height="16" fill="#6a6a6a" opacity="0.8"/>
<rect x="654.25" y="590" width="13.5" height="15" fill="#6a6a6a" opacity="0.8"/>
<rect x="859.5" y="592" width="14" height="14" fill="#6a6a6a" opacity="0.8"/>
<ellipse cx="137" cy="593.5" rx="23" ry="1.8" fill="#555"/>
<ellipse cx="311" cy="597.5" rx="22" ry="1.8" fill="#555"/>
<ellipse cx="659" cy="606" rx="21" ry="1.7" fill="#555"/>
<ellipse cx="867" cy="607.8" rx="22" ry="1.7" fill="#555"/>
<rect x="0" y="-6.25" width="346.93" height="12.50" fill="url(#rafter)" transform="translate(151.00 198.50) rotate(-24.378)" />
<polygon points="0,-6.25 384.85,-6.50 384.85,6.50 0,6.25" fill="url(#rafterL)" transform="translate(497.00 53.00) rotate(18.482)" />
<path d="M 452,62.1 L 476,51.2 Q 482,47.3 488,49.9 L 518,60" fill="none" stroke="#6a6a6a" stroke-width="12.5" stroke-linejoin="round"/>
<path d="M 452,59.3 L 476,48.4 Q 482,44.5 488,47.1 L 518,57.2" fill="none" stroke="#909090" stroke-width="3.2"/>
<path d="M 452,67.2 L 476,56.3 Q 482,53 488,55 L 518,65.2" fill="none" stroke="#555" stroke-width="2"/>
<path d="M 138.3,226 L 138.3,214 Q 138.3,204.6 146,200.8 L 153,197.6" fill="none" stroke="#757575" stroke-width="12.3"/>
<path d="M 135.8,226 L 135.8,213 Q 135.8,202.5 145,198.2 L 153,194.6" fill="none" stroke="#b0b0b0" stroke-width="3.5"/>
<path d="M 866,198 L 866,188 Q 866,177.5 851,171.2" fill="none" stroke="#8e8e8e" stroke-width="12.5"/>
<path d="M 864,198 L 864,188 Q 864,178 851,169.5" fill="none" stroke="#c4c4c4" stroke-width="3.5"/>
<path d="M 826,169.2 L 856,179.2" fill="none" stroke="#505050" stroke-opacity="0.6" stroke-width="4.5"/>
<line x1="143.00" y1="202.09" x2="162.00" y2="193.49" stroke="#4a4a4a" stroke-opacity="0.55" stroke-width="12.50"/>
<line x1="296.00" y1="132.77" x2="312.00" y2="125.52" stroke="#4a4a4a" stroke-opacity="0.55" stroke-width="12.50"/>
<line x1="345.00" y1="110.57" x2="356.00" y2="105.59" stroke="#4a4a4a" stroke-opacity="0.55" stroke-width="12.50"/>
<line x1="440.00" y1="67.53" x2="470.00" y2="53.94" stroke="#4a4a4a" stroke-opacity="0.4" stroke-width="12.50"/>
<line x1="610.00" y1="90.78" x2="668.00" y2="110.16" stroke="#4a4a4a" stroke-opacity="0.22" stroke-width="12.80"/>
<line x1="606.00" y1="92.84" x2="668.00" y2="113.56" stroke="#4a4a4a" stroke-opacity="0.5" stroke-width="6.00"/>
</g>
<g id="dims">
<line x1="60.60" y1="52.50" x2="60.60" y2="299.00" stroke="#444444" stroke-width="5"/>
<line x1="60.60" y1="339.00" x2="60.60" y2="581.50" stroke="#444444" stroke-width="5"/>
<polygon points="60.60,595.00 53.10,580.00 68.10,580.00" fill="#444444"/>
<polygon points="60.60,39.00 53.10,54.00 68.10,54.00" fill="#444444"/>
<text x="60.6" y="328" font-size="23.5" fill="#333333" text-anchor="middle">3,91 m</text>
<line x1="1347.60" y1="297.20" x2="1347.60" y2="393.00" stroke="#444444" stroke-width="5"/>
<line x1="1347.60" y1="434.00" x2="1347.60" y2="531.00" stroke="#444444" stroke-width="5"/>
<polygon points="1347.60,544.50 1340.10,529.50 1355.10,529.50" fill="#444444"/>
<polygon points="1347.60,283.70 1340.10,298.70 1355.10,298.70" fill="#444444"/>
<text x="1347" y="421" font-size="23.5" fill="#333333" text-anchor="middle">3 m</text>
<line x1="131.44" y1="636.41" x2="440.00" y2="645.40" stroke="#444444" stroke-width="5"/>
<line x1="532.00" y1="648.10" x2="841.06" y2="657.09" stroke="#444444" stroke-width="5"/>
<polygon points="855.00,657.50 839.30,664.30 839.72,649.80" fill="#444444"/>
<polygon points="117.50,636.00 132.78,643.70 133.20,629.20" fill="#444444"/>
<text x="486" y="651" font-size="23.5" fill="#333333" text-anchor="middle">5 m</text>
<line x1="912.16" y1="652.86" x2="1059.00" y2="625.50" stroke="#444444" stroke-width="5.3"/>
<polygon points="898.00,655.50 915.06,659.70 912.40,645.44" fill="#444444"/>
<line x1="1146.00" y1="606.90" x2="1292.31" y2="581.47" stroke="#444444" stroke-width="5.3"/>
<polygon points="1306.50,579.00 1291.98,588.88 1289.49,574.60" fill="#444444"/>
<text x="1101" y="622" font-size="23.5" fill="#333333" text-anchor="middle">28 m</text>
<line x1="269.00" y1="168.00" x2="269.00" y2="355.00" stroke="#d40000" stroke-width="6"/>
<line x1="269.00" y1="395.00" x2="269.00" y2="577.50" stroke="#d40000" stroke-width="6"/>
<polygon points="269.00,591.00 261.50,576.00 276.50,576.00" fill="#d40000"/>
<polygon points="269.00,154.50 261.50,169.50 276.50,169.50" fill="#d40000"/>
<rect x="227.5" y="360" width="81.5" height="30" rx="11" fill="#ffffff"/>
<text x="269" y="382.5" font-size="19.5" fill="#d40000" text-anchor="middle">3,31 m</text>
<line x1="342.95" y1="576.37" x2="434.00" y2="578.80" stroke="#d40000" stroke-width="6.5"/>
<line x1="525.00" y1="581.20" x2="616.05" y2="583.63" stroke="#d40000" stroke-width="6.5"/>
<polygon points="630.00,584.00 614.32,590.59 614.69,576.59" fill="#d40000"/>
<polygon points="329.00,576.00 344.31,583.41 344.68,569.41" fill="#d40000"/>
<rect x="437" y="564" width="84" height="30" rx="11" fill="#ffffff"/>
<text x="478.8" y="585" font-size="19.5" fill="#d40000" text-anchor="middle">2,62 m</text>
<circle cx="232" cy="165" r="16.7" fill="#323232"/>
<text x="232" y="172.2" font-size="19.5" fill="#ffffff" text-anchor="middle">1</text>
<circle cx="325.9" cy="122.9" r="16.7" fill="#323232"/>
<text x="325.9" y="130.1" font-size="19.5" fill="#ffffff" text-anchor="middle">2</text>
<circle cx="484" cy="91.7" r="16.7" fill="#323232"/>
<text x="484" y="98.9" font-size="19.5" fill="#ffffff" text-anchor="middle">3</text>
<circle cx="865" cy="476.3" r="16.7" fill="#323232"/>
<text x="865" y="483.5" font-size="19.5" fill="#ffffff" text-anchor="middle">4</text>
<circle cx="663.3" cy="426.8" r="16.7" fill="#323232"/>
<text x="663.3" y="434.0" font-size="19.5" fill="#ffffff" text-anchor="middle">5</text>
<circle cx="755.8" cy="601.3" r="16.7" fill="#323232"/>
<text x="755.8" y="608.5" font-size="19.5" fill="#ffffff" text-anchor="middle">6</text>
<circle cx="864.4" cy="605.5" r="16.7" fill="#323232"/>
<text x="864.4" y="612.7" font-size="19.5" fill="#ffffff" text-anchor="middle">7</text>
</g>
</svg>
</body>
</html>
